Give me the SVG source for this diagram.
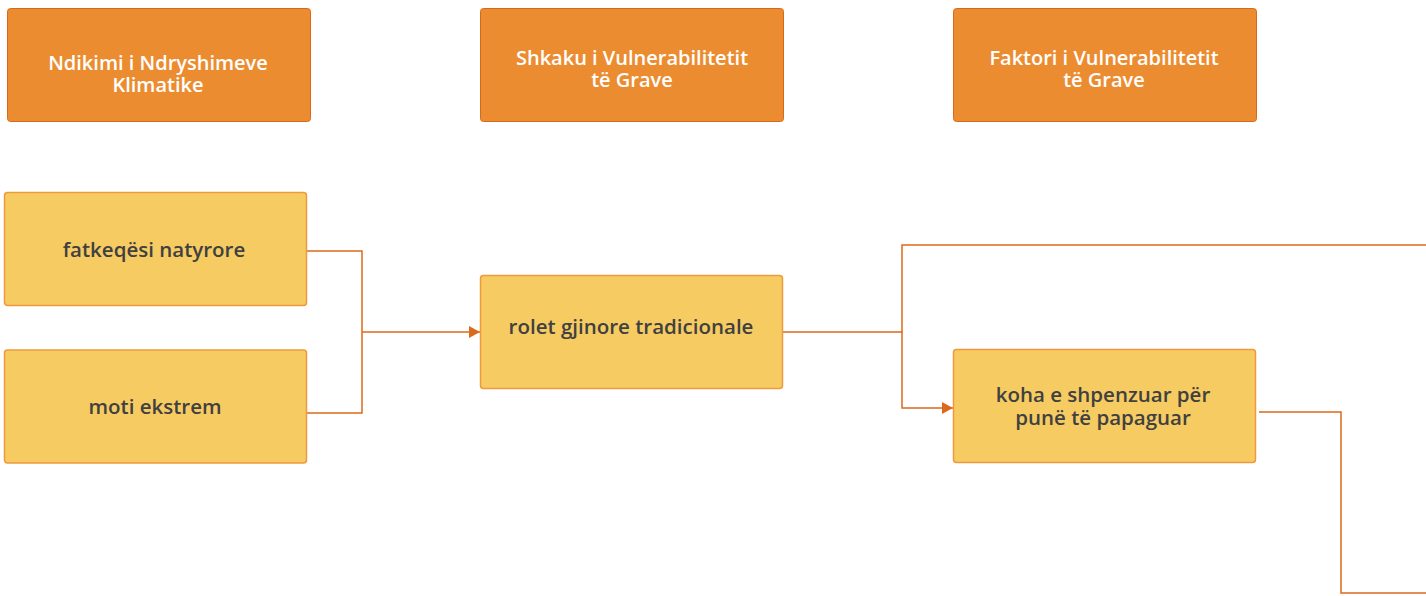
<svg xmlns="http://www.w3.org/2000/svg" width="1426" height="596" viewBox="0 0 1426 596">
<style>
.hdr{fill:#EC8C30;stroke:#D9691A;stroke-width:1}
.box{fill:#F6CB62;stroke:#EE9A3C;stroke-width:1.5}
.ht{fill:#FFFFFF;font-family:"Open Sans","DejaVu Sans",sans-serif;font-weight:600;font-size:20px;text-anchor:middle}
.bt{fill:#404040;font-family:"Open Sans","DejaVu Sans",sans-serif;font-weight:600;font-size:20.5px;text-anchor:middle}
.ln{fill:none;stroke:#DC6A1B;stroke-width:1.5}
</style>
<defs>
<marker id="arr" markerWidth="12" markerHeight="12" refX="11" refY="6" orient="auto" markerUnits="userSpaceOnUse">
<path d="M0,0 L11,6 L0,12 Z" fill="#DC6A1B"/>
</marker>
</defs>
<g id="connectors">
<path class="ln" d="M307,251 H362 V413 H307"/>
<path class="ln" d="M362,332 H480" marker-end="url(#arr)"/>
<path class="ln" d="M783,332 H902 V245 H1426"/>
<path class="ln" d="M902,332 V408 H953" marker-end="url(#arr)"/>
<path class="ln" d="M1259,412 H1341 V593 H1426"/>
</g>
<g id="h1"><rect class="hdr" x="7.5" y="8.5" width="303" height="113" rx="3"/><text class="ht" x="158" y="70">Ndikimi i Ndryshimeve</text><text class="ht" x="158" y="92">Klimatike</text></g>
<g id="h2"><rect class="hdr" x="480.5" y="8.5" width="303" height="113" rx="3"/><text class="ht" x="632" y="65">Shkaku i Vulnerabilitetit</text><text class="ht" x="632" y="87">të Grave</text></g>
<g id="h3"><rect class="hdr" x="953.5" y="8.5" width="303" height="113" rx="3"/><text class="ht" x="1104" y="65">Faktori i Vulnerabilitetit</text><text class="ht" x="1104" y="87">të Grave</text></g>
<g id="n1"><rect class="box" x="4.5" y="192.5" width="302" height="113" rx="3"/><text class="bt" x="154" y="257">fatkeqësi natyrore</text></g>
<g id="n2"><rect class="box" x="4.5" y="350" width="302" height="113" rx="3"/><text class="bt" x="155" y="414">moti ekstrem</text></g>
<g id="n3"><rect class="box" x="480.5" y="275.5" width="302" height="113" rx="3"/><text class="bt" x="631" y="334">rolet gjinore tradicionale</text></g>
<g id="n4"><rect class="box" x="953.5" y="349.5" width="302" height="113" rx="3"/><text class="bt" x="1103" y="402">koha e shpenzuar për</text><text class="bt" x="1103" y="425">punë të papaguar</text></g>
</svg>
